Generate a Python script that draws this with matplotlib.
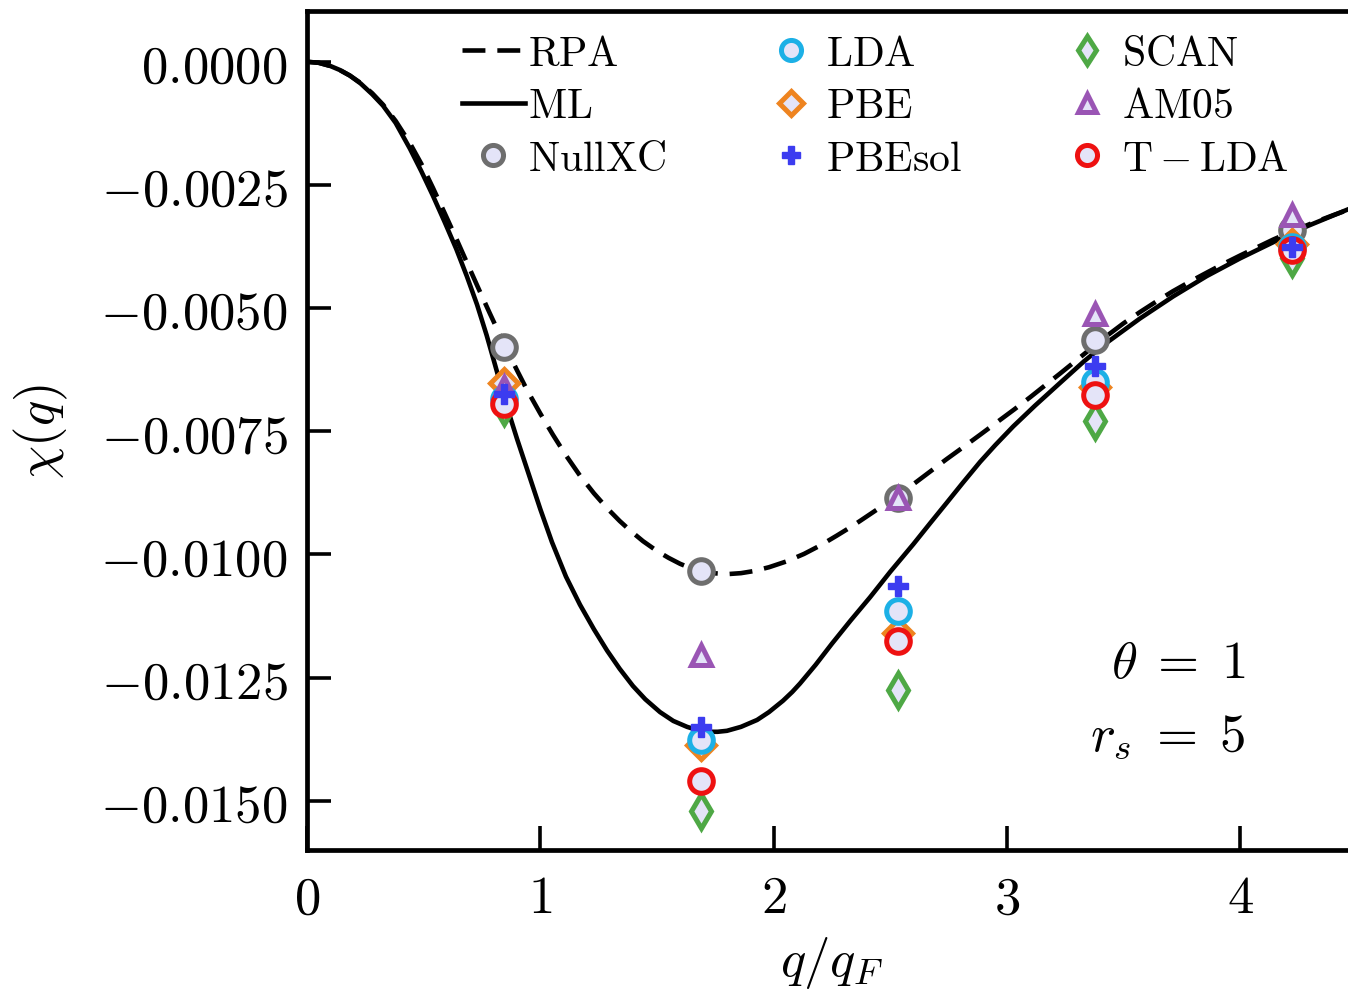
import numpy as np
import matplotlib
matplotlib.use("Agg")
import matplotlib.pyplot as plt
from matplotlib.ticker import FuncFormatter

plt.rcParams["mathtext.fontset"] = "cm"
plt.rcParams["font.family"] = "serif"

# chi(q) in units of 1e-3
Q_RPA = [0, 0.05, 0.10, 0.14, 0.184, 0.23, 0.28, 0.326, 0.38, 0.441, 0.49, 0.54,
         0.59, 0.64, 0.685, 0.735, 0.784, 0.844, 0.90, 0.943, 1.0, 1.054, 1.11,
         1.17, 1.23, 1.286, 1.34, 1.384, 1.44, 1.50, 1.55, 1.599, 1.64, 1.685,
         1.74, 1.80, 1.86, 1.912, 1.98, 2.056, 2.13, 2.199, 2.27, 2.342, 2.43,
         2.528, 2.60, 2.67, 2.74, 2.813, 2.885, 2.956, 3.03, 3.099, 3.16, 3.227,
         3.30, 3.378, 3.44, 3.499, 3.57, 3.642, 3.71, 3.785, 3.86, 3.928, 4.0,
         4.07, 4.14, 4.213, 4.3, 4.4, 4.5]
CHI_RPA = [0, -0.02, -0.085, -0.165, -0.28, -0.43, -0.64, -0.87, -1.20, -1.65,
           -2.07, -2.56, -3.07, -3.59, -4.07, -4.60, -5.11, -5.72, -6.26, -6.66,
           -7.14, -7.57, -7.99, -8.40, -8.76, -9.06, -9.32, -9.51, -9.73, -9.93,
           -10.07, -10.19, -10.27, -10.33, -10.38, -10.40, -10.38, -10.34, -10.26,
           -10.14, -9.99, -9.82, -9.62, -9.41, -9.13, -8.82, -8.57, -8.32, -8.07,
           -7.82, -7.57, -7.32, -7.06, -6.81, -6.58, -6.33, -6.05, -5.75, -5.52,
           -5.31, -5.08, -4.86, -4.66, -4.46, -4.27, -4.10, -3.93, -3.77, -3.61,
           -3.46, -3.29, -3.11, -2.94]

Q_ML = [0, 0.05, 0.10, 0.14, 0.184, 0.23, 0.28, 0.326, 0.38, 0.441, 0.49, 0.54,
        0.59, 0.64, 0.685, 0.729, 0.77, 0.806, 0.849, 0.90, 0.956, 1.0, 1.05,
        1.11, 1.17, 1.23, 1.286, 1.34, 1.397, 1.45, 1.513, 1.57, 1.629, 1.67,
        1.715, 1.76, 1.80, 1.86, 1.929, 1.98, 2.04, 2.08, 2.113, 2.18, 2.25,
        2.33, 2.413, 2.50, 2.599, 2.67, 2.742, 2.81, 2.885, 2.95, 3.027, 3.12,
        3.227, 3.33, 3.428, 3.57, 3.713, 3.856, 3.999, 4.142, 4.285, 4.5]
CHI_ML = [0, -0.02, -0.085, -0.165, -0.28, -0.44, -0.66, -0.89, -1.24, -1.76,
          -2.22, -2.72, -3.25, -3.80, -4.35, -4.93, -5.55, -6.15, -6.88, -7.65,
          -8.45, -9.08, -9.75, -10.45, -11.02, -11.52, -11.95, -12.32, -12.67,
          -12.94, -13.20, -13.38, -13.50, -13.56, -13.60, -13.60, -13.58, -13.50,
          -13.36, -13.20, -12.97, -12.79, -12.62, -12.24, -11.81, -11.34, -10.87,
          -10.35, -9.79, -9.37, -8.95, -8.55, -8.12, -7.78, -7.40, -6.98, -6.52,
          -6.08, -5.70, -5.21, -4.76, -4.35, -3.99, -3.66, -3.34, -2.92]

Q_PTS = [0.844, 1.689, 2.533, 3.378, 4.222]
NULLXC = [-5.78, -10.34, -8.86, -5.65, -3.42]
LDA = [-6.85, -13.76, -11.15, -6.49, -3.75]
PBE = [-6.53, -13.87, -11.60, -6.60, -3.70]
PBESOL = [-6.75, -13.50, -10.64, -6.18, -3.75]
SCAN = [-7.00, -15.20, -12.75, -7.30, -3.98]
AM05 = [-6.60, -12.04, -8.85, -5.11, -3.10]
TLDA = [-6.95, -14.60, -11.76, -6.76, -3.82]

FILL = "#e4e4f8"
STYLE = {
    # name: (values, marker, size, color)
    "NullXC": (NULLXC, "o", 17, "#6e6e6e"),
    "LDA": (LDA, "o", 17, "#1cb0e6"),
    "PBE": (PBE, "D", 14, "#ee8420"),
    "PBEsol": (PBESOL, "P", 15, "#3c3cf0"),
    "SCAN": (SCAN, "d", 17, "#4ea845"),
    "AM05": (AM05, "^", 15, "#9a55b4"),
    "T-LDA": (TLDA, "o", 17, "#ee1111"),
}
DRAW_ORDER = ["NullXC", "PBE", "LDA", "SCAN", "AM05", "T-LDA", "PBEsol"]
LEGEND_ORDER = ["NullXC", "LDA", "PBE", "PBEsol", "SCAN", "AM05", "T-LDA"]

fig = plt.figure(figsize=(13.48, 9.95), dpi=100)
ax = fig.add_axes([0.2277, 0.1447, 0.779, 0.8432])

rpa, = ax.plot(Q_RPA, np.array(CHI_RPA) * 1e-3, color="k", lw=3.3,
               linestyle=(0, (5, 2.6)), label=r"$\mathrm{RPA}$", zorder=2)
ml, = ax.plot(Q_ML, np.array(CHI_ML) * 1e-3, color="k", lw=3.3,
              label=r"$\mathrm{ML}$", zorder=2)

handles = {}
for z, name in enumerate(DRAW_ORDER):
    vals, marker, size, color = STYLE[name]
    label = r"$\mathrm{" + name + "}$"
    if marker == "P":
        h, = ax.plot(Q_PTS, np.array(vals) * 1e-3, linestyle="none", marker=marker,
                     ms=size, color=color, mec=color, label=label, zorder=3 + z)
    else:
        h, = ax.plot(Q_PTS, np.array(vals) * 1e-3, linestyle="none", marker=marker,
                     ms=size, mfc=FILL, mec=color, mew=3.6, label=label, zorder=3 + z)
    handles[name] = h

ax.legend(handles=[rpa, ml] + [handles[n] for n in LEGEND_ORDER], ncol=3,
          loc="upper left", bbox_to_anchor=(0.128, 1.0), frameon=False, fontsize=30,
          handlelength=1.5, handletextpad=0.08, columnspacing=2.25,
          labelspacing=0.25, borderpad=0, markerscale=0.85)

ax.text(4.02, -12.2e-3, r"$\theta\;=\;1$", fontsize=38, ha="right", va="center")
ax.text(4.02, -13.68e-3, r"$r_s\;=\;5$", fontsize=38, ha="right", va="center")

ax.set_xlim(0, 4.5)
ax.set_ylim(-0.016, 0.00103)
ax.set_xticks([0, 1, 2, 3, 4])
ax.set_yticks([0, -0.0025, -0.005, -0.0075, -0.01, -0.0125, -0.015])
ax.xaxis.set_major_formatter(FuncFormatter(lambda v, p: f"${v:.0f}$"))
ax.yaxis.set_major_formatter(FuncFormatter(lambda v, p: f"${v:.4f}$"))
ax.tick_params(direction="in", length=17, width=2.6, labelsize=38)
ax.tick_params(axis="x", pad=16)
ax.tick_params(axis="y", pad=14)
ax.tick_params(top=False, right=False)
for s in ax.spines.values():
    s.set_linewidth(3.4)

ax.set_xlabel(r"$q/q_F$", fontsize=38, labelpad=8)
ax.set_ylabel(r"$\chi(q)$", fontsize=38)
ax.yaxis.set_label_coords(-0.226, 0.5)

fig.savefig("out.png", dpi=100)
